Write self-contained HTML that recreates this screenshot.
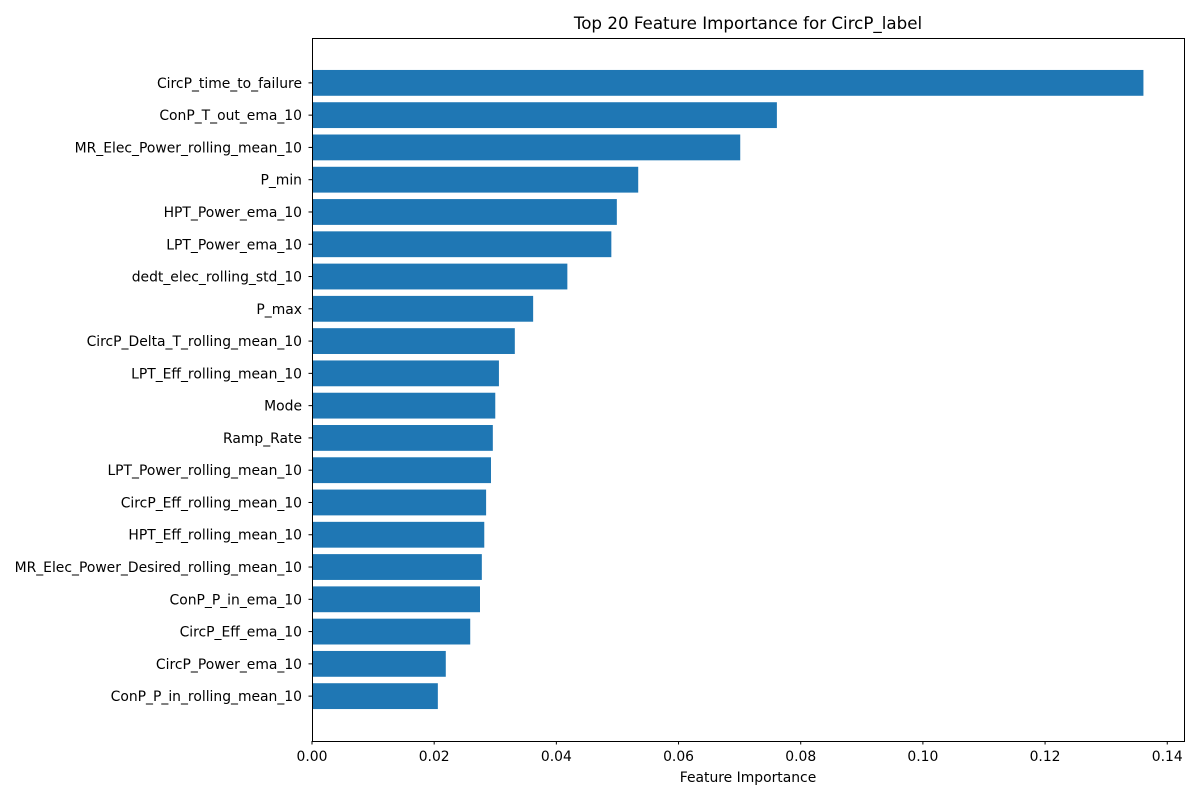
<!DOCTYPE html>
<html><head><meta charset="utf-8"><style>
body{margin:0;background:#fff;}
svg text{font-family:"DejaVu Sans","Liberation Sans",sans-serif;}
</style></head><body>
<svg id="chart" width="1200" height="800" xmlns="http://www.w3.org/2000/svg">
<text x="748" y="29" text-anchor="middle" font-size="16.7">Top 20 Feature Importance for CircP_label</text>
<text x="748" y="782" text-anchor="middle" font-size="13.9">Feature Importance</text>
<g id="bars"></g><g id="ticks"></g>
<rect x="312.5" y="38.5" width="872" height="703" fill="none" stroke="#000" stroke-width="1"/>
</svg>
<script>
const categories=["CircP_time_to_failure","ConP_T_out_ema_10","MR_Elec_Power_rolling_mean_10","P_min","HPT_Power_ema_10","LPT_Power_ema_10","dedt_elec_rolling_std_10","P_max","CircP_Delta_T_rolling_mean_10","LPT_Eff_rolling_mean_10","Mode","Ramp_Rate","LPT_Power_rolling_mean_10","CircP_Eff_rolling_mean_10","HPT_Eff_rolling_mean_10","MR_Elec_Power_Desired_rolling_mean_10","ConP_P_in_ema_10","CircP_Eff_ema_10","CircP_Power_ema_10","ConP_P_in_rolling_mean_10"];
const values=[0.1361,0.0761,0.0701,0.0534,0.0499,0.0490,0.0418,0.0362,0.0332,0.0306,0.0300,0.0296,0.0293,0.0285,0.0282,0.0278,0.0275,0.0259,0.0219,0.0206];
const xTicks=[0,0.02,0.04,0.06,0.08,0.10,0.12,0.14];
const xTickLabels=["0.00","0.02","0.04","0.06","0.08","0.10","0.12","0.14"];
const NS="http://www.w3.org/2000/svg";
const L=312,R=1185,T=38,B=741;
const xMax=Math.max(...values)*1.05;
const x=v=>L+v/xMax*(R-L);
const n=categories.length;
const yMin=-0.4-0.05*(n-0.2), yMax=n-1+0.4+0.05*(n-0.2);
const y=i=>T+(i-yMin)/(yMax-yMin)*(B-T);
const unit=(B-T)/(yMax-yMin);
const bars=document.getElementById('bars'), ticks=document.getElementById('ticks');
function mk(tag,attrs,parent){const e=document.createElementNS(NS,tag);for(const k in attrs)e.setAttribute(k,attrs[k]);parent.appendChild(e);return e;}
categories.forEach((c,i)=>{
  const cy=y(i);
  const r=mk('rect',{x:L,y:cy-0.4*unit,width:x(values[i])-L,height:0.8*unit,fill:'#1f77b4'},bars);
  
  
  const tk=mk('line',{x1:L-3.5,x2:L,y1:cy,y2:cy,stroke:'#000'},ticks);
  
  
  const t=mk('text',{x:L-10,y:cy+5,'text-anchor':'end','font-size':13.9},ticks);
  t.textContent=c;
  
  
});
xTicks.forEach((v,i)=>{
  const px=x(v);
  const tk=mk('line',{x1:px,x2:px,y1:B,y2:B+3.5,stroke:'#000'},ticks);
  
  
  const t=mk('text',{x:px,y:B+20,'text-anchor':'middle','font-size':13.9},ticks);
  t.textContent=xTickLabels[i];
  
  
});
</script>
</body></html>
